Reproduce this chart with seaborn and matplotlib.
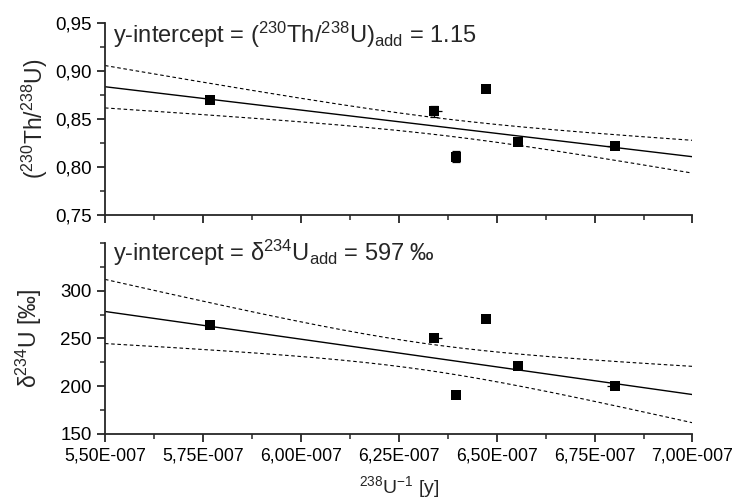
import numpy as np
import pandas as pd
import matplotlib
matplotlib.use("Agg")
import matplotlib.pyplot as plt
from matplotlib.ticker import FixedLocator, MultipleLocator, FuncFormatter
import seaborn as sns

# ---------------- data ----------------
inv_u238 = [5.768e-7, 6.340e-7, 6.396e-7, 6.472e-7, 6.554e-7, 6.801e-7]
th230_u238 = [0.870, 0.858, 0.811, 0.881, 0.826, 0.822]
th230_u238_err = [0.002, 0.006, 0.006, 0.002, 0.003, 0.002]
delta234 = [264.4, 250.8, 191.2, 270.0, 220.8, 200.6]
delta234_err = [2.0, 2.0, 2.0, 2.0, 2.0, 2.0]
x_err_low = [0.0, 0.0, 0.0, 0.0, 0.0, 2.0e-9]
x_err_high = [0.0, 2.0e-9, 0.0, 0.0, 0.0, 0.0]

# regression lines (intercept, slope) and 95% confidence band params
th_fit_intercept, th_fit_slope = 1.1515, -4.867e5
d_fit_intercept, d_fit_slope = 597.0, -5.796e8
# band half-width = sqrt(A + B*((x - x0)/1e-7)**2)
th_band = dict(x0=6.37e-7, A=7.7e-5, B=5.44e-4)
d_band = dict(x0=6.31e-7, A=192.0, B=1426.0)

x_ticks = [5.50e-7, 5.75e-7, 6.00e-7, 6.25e-7, 6.50e-7, 6.75e-7, 7.00e-7]
th_ticks = [0.75, 0.80, 0.85, 0.90, 0.95]
d_ticks = [150, 200, 250, 300]

df = pd.DataFrame({"x": inv_u238, "th": th230_u238, "d": delta234})

# ---------------- style ----------------
sns.set_theme(style="ticks")
plt.rcParams["font.family"] = ["Liberation Sans", "DejaVu Sans"]
plt.rcParams["mathtext.fontset"] = "custom"
plt.rcParams["mathtext.rm"] = "Liberation Sans"
plt.rcParams["mathtext.it"] = "Liberation Sans:italic"
plt.rcParams["mathtext.bf"] = "Liberation Sans:bold"
plt.rcParams["axes.linewidth"] = 1.3

fig = plt.figure(figsize=(7.33, 5.04), dpi=100)
ax1 = fig.add_axes([0.1432, 0.5734, 0.8015, 0.3804])
ax2 = fig.add_axes([0.1432, 0.1389, 0.8015, 0.3792])

xs = np.linspace(5.5e-7, 7.0e-7, 200)
dash = (0, (3.2, 2.4))


def draw(ax, ycol, yerr, intercept, slope, band):
    fit = intercept + slope * xs
    half = np.sqrt(band["A"] + band["B"] * ((xs - band["x0"]) / 1e-7) ** 2)
    sns.lineplot(x=xs, y=fit, ax=ax, color="black", lw=1.0)
    sns.lineplot(x=xs, y=fit + half, ax=ax, color="black", lw=0.8, linestyle=dash)
    sns.lineplot(x=xs, y=fit - half, ax=ax, color="black", lw=0.8, linestyle=dash)
    ax.errorbar(df["x"], df[ycol], yerr=yerr, fmt="none", ecolor="black",
                elinewidth=0.9, capsize=3, capthick=0.9, zorder=3)
    ax.errorbar(df["x"], df[ycol], xerr=[x_err_low, x_err_high], fmt="none",
                ecolor="black", elinewidth=0.9, capsize=0, zorder=3)
    sns.scatterplot(data=df, x="x", y=ycol, ax=ax, marker="s", s=46,
                    color="black", edgecolor="black", linewidth=0, zorder=4)
    ax.set_xlim(5.5e-7, 7.0e-7)
    ax.xaxis.set_major_locator(FixedLocator(x_ticks))
    ax.xaxis.set_minor_locator(MultipleLocator(0.125e-7))
    for s in ("top", "right"):
        ax.spines[s].set_visible(False)
    ax.tick_params(axis="both", which="major", length=6, width=1.1,
                   direction="out", colors="black")
    ax.tick_params(axis="y", labelsize=13.5)
    ax.tick_params(axis="x", labelsize=12.7)
    ax.tick_params(axis="both", which="minor", length=3.5, width=1.1,
                   direction="out")
    ax.set_xlabel("")
    ax.set_ylabel("")


draw(ax1, "th", th230_u238_err, th_fit_intercept, th_fit_slope, th_band)
draw(ax2, "d", delta234_err, d_fit_intercept, d_fit_slope, d_band)

ax1.set_ylim(0.75, 0.95)
ax1.yaxis.set_major_locator(FixedLocator(th_ticks))
ax1.yaxis.set_minor_locator(MultipleLocator(0.025))
ax1.yaxis.set_major_formatter(FuncFormatter(lambda v, p: f"{v:.2f}".replace(".", ",")))
ax1.tick_params(axis="x", labelbottom=False)

ax2.set_ylim(150, 350)
ax2.yaxis.set_major_locator(FixedLocator(d_ticks))
ax2.yaxis.set_minor_locator(MultipleLocator(25))
ax2.yaxis.set_major_formatter(FuncFormatter(lambda v, p: f"{v:.0f}"))


def sci(v, p):
    m = v / 1e-7
    return f"{m:.2f}".replace(".", ",") + "E-007"


ax2.xaxis.set_major_formatter(FuncFormatter(sci))

ax1.set_ylabel(r"($^{230}$Th/$^{238}$U)", fontsize=16.5, labelpad=4)
ax2.set_ylabel(r"δ$^{234}$U [‰]", fontsize=16.5, labelpad=12)
ax2.set_xlabel(r"$^{238}$U$^{-1}$ [y]", fontsize=14, labelpad=7)

ax1.text(0.013, 0.94, r"y-intercept = ($^{230}$Th/$^{238}$U)$_{\mathrm{add}}$ = 1.15",
         transform=ax1.transAxes, fontsize=17, va="center", ha="left")
ax2.text(0.013, 0.95, r"y-intercept = δ$^{234}$U$_{\mathrm{add}}$ = 597 ‰",
         transform=ax2.transAxes, fontsize=17, va="center", ha="left")

fig.savefig("out.png", dpi=100)
